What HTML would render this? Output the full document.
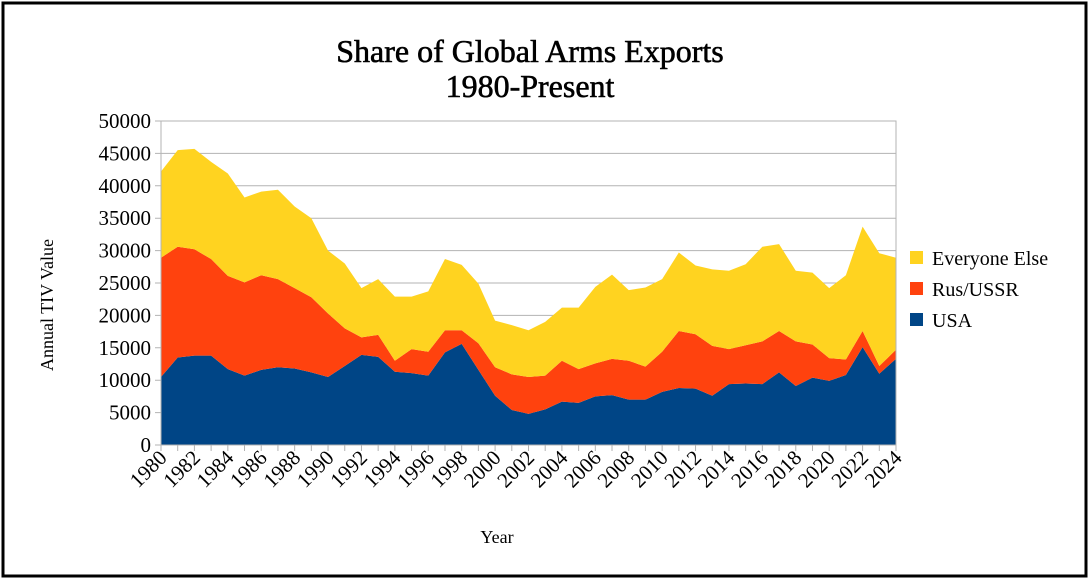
<!DOCTYPE html>
<html><head><meta charset="utf-8"><style>
html,body{margin:0;padding:0;background:#fff}
svg{display:block;font-family:"Liberation Serif",serif}
</style></head><body>
<svg width="1091" height="581" viewBox="0 0 1091 581">
<rect x="3" y="3" width="1083" height="573" fill="#fff" stroke="#000" stroke-width="3"/>
<text x="530" y="62" font-size="32" text-anchor="middle" stroke="#000" stroke-width="0.6">Share of Global Arms Exports</text>
<text x="530" y="97" font-size="32" text-anchor="middle" stroke="#000" stroke-width="0.6">1980-Present</text>
<g id="grid"></g>
<g id="areas"></g>
<g id="axes"></g>
<text transform="translate(53,305) rotate(-90)" font-size="18" text-anchor="middle">Annual TIV Value</text>
<text x="497" y="543" font-size="18" text-anchor="middle">Year</text>
<g>
<g><rect x="910" y="251" width="13" height="13" fill="#ffd320"/><text x="932" y="265" font-size="20">Everyone Else</text></g>
<g><rect x="910" y="282" width="13" height="13" fill="#ff420e"/><text x="932" y="296" font-size="20">Rus/USSR</text></g>
<g><rect x="910" y="313" width="13" height="13" fill="#004586"/><text x="932" y="327" font-size="20">USA</text></g>
</g>
</svg>
<script>
const years=[];for(let y=1980;y<=2024;y++)years.push(y);
const usa=[10500,13500,13800,13800,11700,10700,11600,12000,11800,11200,10500,12200,13900,13600,11300,11100,10700,14300,15600,11600,7600,5400,4800,5500,6700,6500,7500,7700,7000,7000,8200,8800,8700,7600,9400,9500,9400,11200,9100,10400,9900,10800,15100,11000,13300];
const rus=[18400,17100,16400,14900,14400,14400,14600,13600,12400,11600,9800,5800,2700,3400,1700,3700,3700,3400,2100,4100,4400,5500,5700,5200,6300,5200,5100,5600,6000,5100,6200,8800,8400,7700,5400,5900,6600,6400,6900,5100,3500,2400,2500,1200,1400];
const other=[13300,14900,15500,15000,15800,13100,12900,13800,12600,12200,9700,10000,7600,8600,9900,8100,9300,11000,10100,9200,7200,7600,7200,8300,8200,9500,11800,13000,10900,12200,11200,12100,10600,11800,12100,12500,14600,13400,10900,11100,10800,13000,16100,17400,14200];
const yTicks=[0,5000,10000,15000,20000,25000,30000,35000,40000,45000,50000];
const NS='http://www.w3.org/2000/svg';
const X0=161,X1=896,Y0=445,Y1=121,YMAX=50000;
const xs=i=>X0+(X1-X0)*i/(years.length-1);
const ys=v=>Y0-(Y0-Y1)*v/YMAX;
function mk(t,a,p){const e=document.createElementNS(NS,t);for(const k in a)e.setAttribute(k,a[k]);p.appendChild(e);return e;}
const grid=document.getElementById('grid'),areas=document.getElementById('areas'),axes=document.getElementById('axes');
yTicks.forEach(v=>{
 const l=mk('line',{x1:X0-6,x2:X1,y1:ys(v),y2:ys(v),stroke:'#b3b3b3','stroke-width':1},grid);
 
 
 const t=mk('text',{x:X0-10,y:ys(v)+7,'font-size':21,'text-anchor':'end'},axes);
 t.textContent=v;
 
 
});
const series=[{d:usa,c:'#004586',n:'usa-area'},{d:rus,c:'#ff420e',n:'rus-ussr-area'},{d:other,c:'#ffd320',n:'everyone-else-area'}];
let base=years.map(()=>0);
series.forEach(s=>{
 const top=base.map((b,i)=>b+s.d[i]);
 let pts=top.map((v,i)=>xs(i)+','+ys(v));
 for(let i=years.length-1;i>=0;i--)pts.push(xs(i)+','+ys(base[i]));
 const e=mk('polygon',{points:pts.join(' '),fill:s.c},areas);
 
 
 base=top;
});
const fr=mk('rect',{x:X0,y:Y1,width:X1-X0,height:Y0-Y1,fill:'none',stroke:'#b3b3b3'},axes);


years.forEach((y,i)=>{
 const tk=mk('line',{x1:xs(i),x2:xs(i),y1:Y0,y2:Y0+6,stroke:'#b3b3b3'},axes);
 
 
 if(i%2===0){
  const t=mk('text',{transform:'translate('+(xs(i)+7)+','+(Y0+14)+') rotate(-45)','font-size':21,'text-anchor':'end'},axes);
  t.textContent=y;
  
  
 }
});
</script>
</body></html>
